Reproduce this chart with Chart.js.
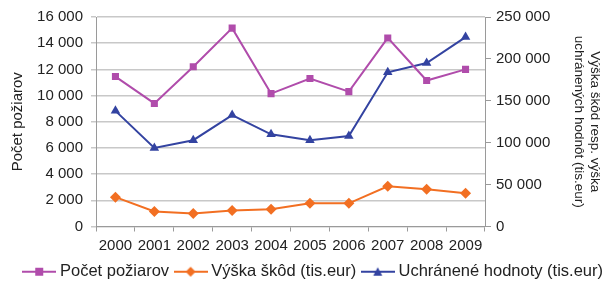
<!DOCTYPE html>
<html>
<head>
<meta charset="utf-8">
<script src="https://cdn.jsdelivr.net/npm/chart.js@4"></script>
<style>
  html, body { margin: 0; padding: 0; background: #fff; }
  #wrap { width: 612px; height: 282px; }
</style>
</head>
<body>
<div id="wrap"><canvas id="chart" width="612" height="282"></canvas></div>
<script>
const YEARS = ['2000', '2001', '2002', '2003', '2004', '2005', '2006', '2007', '2008', '2009'];
const POCET_POZIAROV = [11450, 9400, 12200, 15150, 10150, 11300, 10300, 14400, 11150, 12000];
const VYSKA_SKOD = [35000, 18000, 15600, 19000, 20500, 27600, 27600, 48000, 44500, 39700];
const UCHRANENE = [138000, 93700, 103000, 133000, 110000, 103000, 108000, 184000, 195000, 226000];

const PINK = '#b04cab';
const ORANGE = '#f26f22';
const BLUE = '#3343a1';
const FONT = 'Liberation Sans, Arial, sans-serif';
const TEXT = '#222';
const AXIS = '#9a9a9a';

const fmt = v => String(v).replace(/\B(?=(\d{3})+(?!\d))/g, ' ');

// legend glyph: line with the marker on it
function legendIcon(color, style) {
  const c = document.createElement('canvas');
  c.width = 34; c.height = 12;
  const ctx = c.getContext('2d');
  ctx.strokeStyle = color; ctx.fillStyle = color; ctx.lineWidth = 2;
  ctx.beginPath(); ctx.moveTo(0, 6); ctx.lineTo(34, 6); ctx.stroke();
  ctx.beginPath();
  if (style === 'rect') ctx.rect(13, 2, 8, 8);
  else if (style === 'rectRot') { ctx.moveTo(17, 1); ctx.lineTo(22, 6); ctx.lineTo(17, 11); ctx.lineTo(12, 6); ctx.closePath(); }
  else { ctx.moveTo(17, 1.5); ctx.lineTo(21.5, 10); ctx.lineTo(12.5, 10); ctx.closePath(); }
  ctx.fill();
  return c;
}

const series = [
  { label: 'Počet požiarov', data: POCET_POZIAROV, color: PINK, style: 'rect', axis: 'y', r: 5 },
  { label: 'Výška škôd (tis.eur)', data: VYSKA_SKOD, color: ORANGE, style: 'rectRot', axis: 'y2', r: 5.5 },
  { label: 'Uchránené hodnoty (tis.eur)', data: UCHRANENE, color: BLUE, style: 'triangle', axis: 'y2', r: 5.5 },
];

new Chart(document.getElementById('chart'), {
  type: 'line',
  data: {
    labels: YEARS,
    datasets: series.map(s => ({
      label: s.label,
      data: s.data,
      yAxisID: s.axis,
      borderColor: s.color,
      backgroundColor: s.color,
      borderWidth: 2,
      pointStyle: s.style,
      pointRadius: s.r,
      pointBorderWidth: 0,
      tension: 0,
    }))
  },
  options: {
    responsive: false,
    animation: false,
    layout: { padding: { top: 9, left: 0, right: 0, bottom: -8 } },
    plugins: {
      tooltip: { enabled: false },
      legend: {
        position: 'bottom',
        align: 'end',
        labels: {
          color: TEXT,
          font: { family: FONT, size: 16.5 },
          usePointStyle: true,
          pointStyleWidth: 25,
          padding: 9,
          generateLabels: chart => Chart.defaults.plugins.legend.labels.generateLabels(chart).map((l, i) => ({
            ...l, pointStyle: legendIcon(series[i].color, series[i].style)
          }))
        }
      }
    },
    scales: {
      x: {
        offset: true,
        grid: { offset: true, drawOnChartArea: false, tickLength: 5, color: AXIS },
        border: { color: AXIS },
        ticks: { color: TEXT, font: { family: FONT, size: 15 }, padding: 5, maxRotation: 0, autoSkip: false },
        afterFit: s => { s.height = 28; }
      },
      y: {
        position: 'left',
        min: 0, max: 16000,
        ticks: { stepSize: 2000, color: TEXT, font: { family: FONT, size: 15 }, padding: 8, callback: fmt },
        grid: { color: '#c8c8c8', lineWidth: 1.5, tickLength: 5 },
        border: { color: AXIS },
        title: { display: true, text: 'Počet požiarov', color: TEXT, font: { family: FONT, size: 15 }, padding: { top: 9, bottom: 0 } },
        afterFit: s => { s.width = 96; }
      },
      y2: {
        position: 'right',
        min: 0, max: 250000,
        ticks: { stepSize: 50000, color: TEXT, font: { family: FONT, size: 15 }, padding: 5, callback: fmt },
        grid: { drawOnChartArea: false, tickLength: 6, color: AXIS },
        border: { color: AXIS },
        title: {
          display: true,
          text: ['Výška škôd resp. výška', 'uchránených hodnôt (tis.eur)'],
          color: TEXT, font: { family: FONT, size: 13.5, lineHeight: 1.2 }, padding: { top: 9, bottom: 0 }
        },
        afterFit: s => { s.width = 127; }
      }
    }
  }
});
</script>
</body>
</html>
